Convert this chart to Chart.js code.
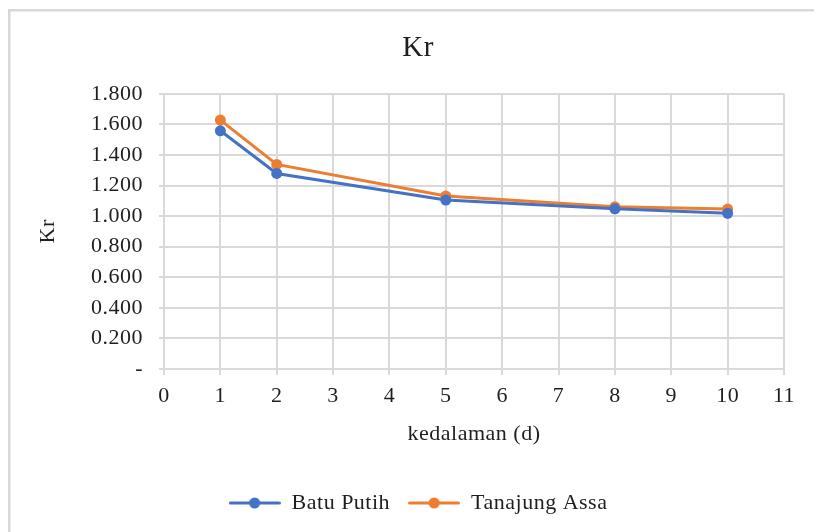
<!DOCTYPE html>
<html>
<head>
<meta charset="utf-8">
<script src="https://cdn.jsdelivr.net/npm/chart.js@4/dist/chart.umd.min.js"></script>
<style>
html,body{margin:0;padding:0;background:#fff;}
#wrap{width:814px;height:532px;position:relative;}
</style>
</head>
<body>
<div id="wrap"><canvas id="c" width="814" height="532"></canvas></div>
<script>
const depth = [1, 2, 5, 8, 10];
const batuPutih = [1.558, 1.279, 1.105, 1.048, 1.018];
const tanajungAssa = [1.628, 1.338, 1.131, 1.061, 1.046];
const seriesNames = ['Batu Putih', 'Tanajung Assa'];
const seriesColors = ['#4472C4', '#ED7D31'];
const chartTitle = 'Kr';
const xTitle = 'kedalaman (d)';
const yTitle = 'Kr';

const FONT = '"Liberation Serif", "Times New Roman", serif';
const TXT = '#1f1f1f';
const GRID = '#d9d9d9';

function legendIcon(color){
  const cv = document.createElement('canvas');
  cv.width = 52; cv.height = 14;
  const g = cv.getContext('2d');
  g.strokeStyle = color; g.lineWidth = 3; g.lineCap = 'round';
  g.beginPath(); g.moveTo(1.5, 7); g.lineTo(50.5, 7); g.stroke();
  g.fillStyle = color;
  g.beginPath(); g.arc(26, 7, 5.5, 0, Math.PI*2); g.fill();
  return cv;
}

const toPts = (ys) => depth.map((d, i) => ({x: d, y: ys[i]}));

const spacing = {
  id: 'spacing',
  beforeUpdate(chart){ if ('letterSpacing' in chart.ctx) chart.ctx.letterSpacing = '0.5px'; },
  beforeDraw(chart){ if ('letterSpacing' in chart.ctx) chart.ctx.letterSpacing = '0.5px'; }
};

const frame = {
  id: 'frame',
  beforeDraw(chart){
    const ctx = chart.ctx;
    ctx.save();
    ctx.fillStyle = '#fff';
    ctx.fillRect(0, 0, chart.width, chart.height);
    ctx.fillStyle = GRID;
    ctx.fillRect(8, 9, 806, 2.5);
    ctx.fillRect(8, 9, 2.5, 523);
    ctx.restore();
  }
};

new Chart(document.getElementById('c'), {
  type: 'line',
  data: {
    datasets: [
      {label: seriesNames[0], data: toPts(batuPutih), borderColor: seriesColors[0], backgroundColor: seriesColors[0],
       borderWidth: 3, pointRadius: 5.5, pointHoverRadius: 5.5, pointBackgroundColor: seriesColors[0], pointBorderWidth: 0, tension: 0},
      {label: seriesNames[1], data: toPts(tanajungAssa), borderColor: seriesColors[1], backgroundColor: seriesColors[1],
       borderWidth: 3, pointRadius: 5.5, pointHoverRadius: 5.5, pointBackgroundColor: seriesColors[1], pointBorderWidth: 0, tension: 0}
    ]
  },
  options: {
    responsive: false,
    animation: false,
    devicePixelRatio: 1,
    layout: {padding: {left: 52, right: 30, top: 0, bottom: 8}},
    plugins: {
      tooltip: {enabled: false},
      title: {display: true, text: chartTitle, color: TXT, font: {family: FONT, size: 29, weight: 'normal'}, padding: {top: 31, bottom: 28}},
      legend: {
        position: 'bottom',
        labels: {
          color: TXT,
          font: {family: FONT, size: 22},
          usePointStyle: true,
          pointStyleWidth: 52,
          padding: 18,
          generateLabels(chart){
            return chart.data.datasets.map((ds, i) => ({
              text: ds.label, fillStyle: ds.borderColor, strokeStyle: ds.borderColor,
              pointStyle: legendIcon(ds.borderColor), lineWidth: 0, hidden: false, datasetIndex: i, fontColor: TXT
            }));
          }
        }
      }
    },
    scales: {
      x: {
        type: 'linear', min: 0, max: 11,
        ticks: {stepSize: 1, color: TXT, font: {family: FONT, size: 22}, padding: 8},
        grid: {color: GRID, lineWidth: 2, tickLength: 6, drawTicks: true},
        border: {color: GRID, width: 2},
        title: {display: true, text: xTitle, color: TXT, font: {family: FONT, size: 22}, padding: {top: 6, bottom: 27}},
        afterFit(s){ s.height = 105; }
      },
      y: {
        min: 0, max: 1.8,
        ticks: {stepSize: 0.2, color: TXT, font: {family: FONT, size: 22}, padding: 16,
          callback: (v) => Math.abs(v) < 1e-9 ? '-' : Number(v).toFixed(3)},
        grid: {color: GRID, lineWidth: 2, tickLength: 5, drawTicks: true},
        border: {color: GRID, width: 2},
        title: {display: true, text: yTitle, color: TXT, font: {family: FONT, size: 22}, padding: {top: -17, bottom: 0}},
        afterFit(s){ s.width = 112; }
      }
    }
  },
  plugins: [spacing, frame]
});
</script>
</body>
</html>
